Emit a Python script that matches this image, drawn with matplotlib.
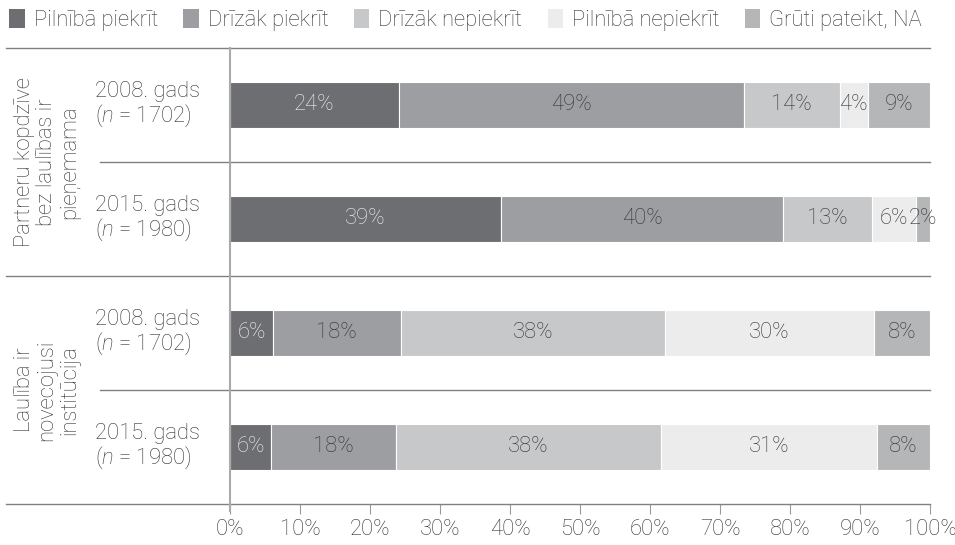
import numpy as np
import matplotlib
matplotlib.use("Agg")
import matplotlib.pyplot as plt
import matplotlib.transforms as mtransforms
from matplotlib.patches import Patch

plt.rcParams["font.family"] = ["Roboto", "DejaVu Sans"]
plt.rcParams["font.weight"] = "light"
plt.rcParams["mathtext.fontset"] = "custom"
plt.rcParams["mathtext.it"] = "Roboto:italic:light"
plt.rcParams["mathtext.rm"] = "Roboto:light"

# ── Data ───────────────────────────────────────────────────────────────────
categories = ["Pilnībā piekrīt", "Drīzāk piekrīt", "Drīzāk nepiekrīt",
              "Pilnībā nepiekrīt", "Grūti pateikt, NA"]
row_labels = ["2008. gads\n($\\it{n}$ = 1702)", "2015. gads\n($\\it{n}$ = 1980)",
              "2008. gads\n($\\it{n}$ = 1702)", "2015. gads\n($\\it{n}$ = 1980)"]
group_labels = ["Partneru kopdzīve\nbez laulības ir\npieņemama",
                "Laulība ir\nnovecojusi\ninstitūcija"]

# segment shares (%) per row, one list per answer category
pilniba_piekrit   = [24.1, 38.7, 6.1, 5.9]
drizak_piekrit    = [49.3, 40.3, 18.3, 17.8]
drizak_nepiekrit  = [13.7, 12.7, 37.7, 37.9]
pilniba_nepiekrit = [4.0, 6.3, 29.9, 30.8]
gruti_pateikt     = [8.9, 2.0, 8.0, 7.6]

# printed labels
lbl_1 = ["24%", "39%", "6%", "6%"]
lbl_2 = ["49%", "40%", "18%", "18%"]
lbl_3 = ["14%", "13%", "38%", "38%"]
lbl_4 = ["4%", "6%", "30%", "31%"]
lbl_5 = ["9%", "2%", "8%", "8%"]

series = [pilniba_piekrit, drizak_piekrit, drizak_nepiekrit, pilniba_nepiekrit, gruti_pateikt]
labels = [lbl_1, lbl_2, lbl_3, lbl_4, lbl_5]
colors = ["#6d6e71", "#9d9ea1", "#c7c8ca", "#ececec", "#b5b6b8"]
text_colors = ["#f2f2f2", "#333333", "#333333", "#333333", "#333333"]

FS = 15.8

# ── Plot ───────────────────────────────────────────────────────────────────
W, H = 955, 545
fig = plt.figure(figsize=(W / 100, H / 100), dpi=100)
ax = fig.add_axes([230 / W, 1 - 504 / H, 700 / W, (504 - 48) / H])

y = np.arange(len(row_labels))
left = np.zeros(len(row_labels))
for vals, lbls, c, tc in zip(series, labels, colors, text_colors):
    vals = np.array(vals)
    ax.barh(y, vals, left=left, height=0.40, color=c, edgecolor="white", linewidth=0.8)
    for yi, l, v, t in zip(y, left, vals, lbls):
        ax.text(l + v / 2, yi, t, ha="center", va="center", fontsize=FS, color=tc)
    left += vals

ax.set_xlim(0, 100)
ax.set_ylim(3.5, -0.5)
ax.set_xticks(np.arange(0, 101, 10))
ax.set_xticklabels([f"{v}%" for v in range(0, 101, 10)])
ax.tick_params(axis="x", length=7, width=0.8, color="#999999", labelsize=FS,
               labelcolor="#333333", pad=4)
ax.set_yticks([])
for s in ["top", "right", "bottom", "left"]:
    ax.spines[s].set_visible(False)

# separator lines extending to the left
trans = mtransforms.blended_transform_factory(ax.transAxes, ax.transData)
x_long = (6 - 230) / 700
x_short = (100 - 230) / 700
for yl, x0 in [(-0.5, x_long), (0.5, x_short), (1.5, x_long), (2.5, x_short), (3.5, x_long)]:
    ax.plot([x0, 1], [yl, yl], transform=trans, color="#808080", lw=1.0, clip_on=False, zorder=3)

# vertical axis line
ax.plot([0, 0], [-0.5, 3.5 + 7 / 114], color="#aaaaaa", lw=1.5, clip_on=False, zorder=4)

# row labels
for yi, t in zip(y, row_labels):
    ax.text((95 - 230) / 700, yi, t, transform=trans, ha="left", va="center",
            fontsize=FS, color="#333333", linespacing=1.0)

# group labels
x_grp = (47 - 230) / 700
for gi, t in enumerate(group_labels):
    ax.text(x_grp, 0.5 + 2 * gi, t, transform=trans, ha="center", va="center",
            rotation=90, fontsize=FS, color="#333333", linespacing=1.1,
            multialignment="center")

# legend
handles = [Patch(facecolor=c, edgecolor="none") for c in colors]
fig.legend(handles, categories, loc="upper left", bbox_to_anchor=(-0.011, 1.02), ncol=5,
           frameon=False, fontsize=FS, handlelength=0.7, handleheight=1.0,
           handletextpad=0.42, columnspacing=1.15, labelcolor="#333333")

fig.savefig("out.png", dpi=100)
